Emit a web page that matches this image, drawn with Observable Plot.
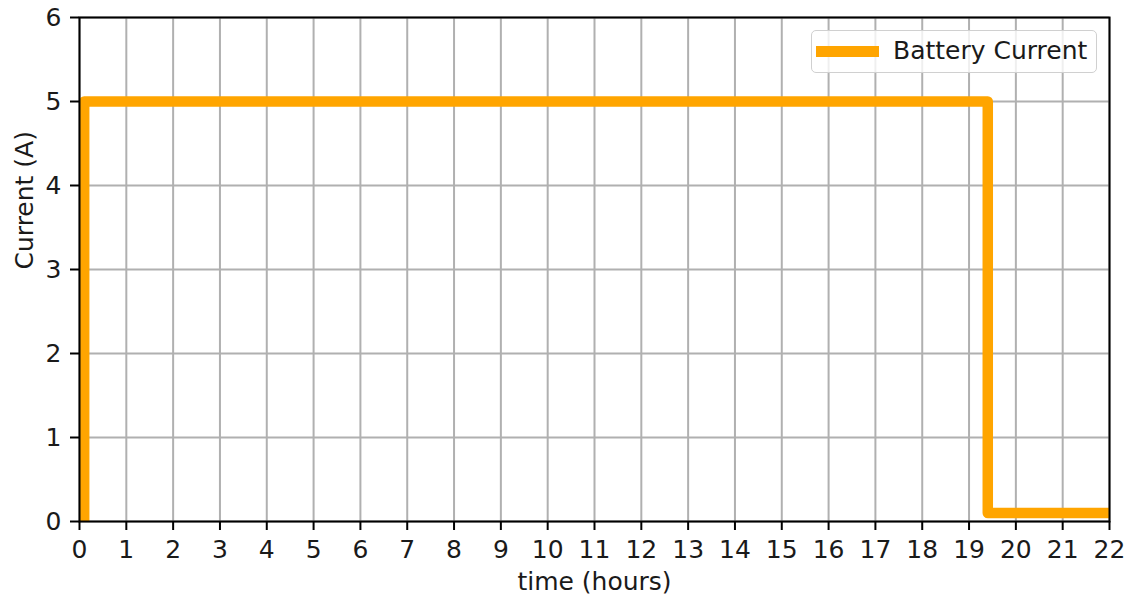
<!DOCTYPE html>
<html>
<head>
<meta charset="utf-8">
<script src="https://cdn.jsdelivr.net/npm/d3@7"></script>
<script src="https://cdn.jsdelivr.net/npm/@observablehq/plot@0.6"></script>
<style>
  html, body { margin: 0; padding: 0; background: #fff; }
  #wrap { position: relative; width: 1129px; height: 598px; font-family: "DejaVu Sans", sans-serif; }
  #legend {
    position: absolute; left: 811px; top: 30px; width: 286px; height: 43px;
    border: 1.5px solid #d0d0d0; border-radius: 5px; background: rgba(255,255,255,0.8);
    box-sizing: border-box;
  }
  #legend .sw { position: absolute; left: 4px; top: 15px; width: 63px; height: 11px; background: #FFA500; }
  #legend .lb { position: absolute; left: 81px; top: 5px; font-size: 25px; line-height: 30px; color: #1a1a1a; white-space: nowrap; }
</style>
</head>
<body>
<div id="wrap">
  <div id="legend"><div class="sw"></div><div class="lb">Battery Current</div></div>
</div>
<script>
// Data: battery current step profile
const seriesName = "Battery Current";
const timeHours = [0.1, 0.1, 19.4, 19.4, 22];
const currentA  = [0, 5, 5, 0.1, 0.1];
const xTicks = d3.range(0, 23);
const yTicks = [0, 1, 2, 3, 4, 5, 6];
const xLabel = "time (hours)";
const yLabel = "Current (A)";

const data = timeHours.map((t, i) => ({t, c: currentA[i]}));
const fs = 25;

const chart = Plot.plot({
  width: 1129,
  height: 598,
  marginLeft: 79,
  marginRight: 20,
  marginTop: 17,
  marginBottom: 77,
  style: {fontFamily: "DejaVu Sans, sans-serif", fontSize: fs + "px", color: "#1a1a1a", background: "#fff"},
  x: {domain: [0, 22], ticks: xTicks},
  y: {domain: [0, 6], ticks: yTicks},
  marks: [
    Plot.gridX(xTicks, {stroke: "#b0b0b0", strokeOpacity: 1, strokeWidth: 2}),
    Plot.gridY(yTicks, {stroke: "#b0b0b0", strokeOpacity: 1, strokeWidth: 2}),
    Plot.line(data, {x: "t", y: "c", stroke: "#FFA500", strokeWidth: 10.5, strokeLinejoin: "round", clip: true}),
    Plot.frame({stroke: "#000", strokeWidth: 2}),
    Plot.axisX(xTicks, {tickSize: 9, tickPadding: 10, fontSize: fs, strokeWidth: 2, stroke: "#000", tickFormat: d => String(d), label: null}),
    Plot.axisY(yTicks, {tickSize: 9, tickPadding: 9, fontSize: fs, strokeWidth: 2, stroke: "#000", tickFormat: d => String(d), label: null}),
    Plot.text([xLabel], {frameAnchor: "bottom", dy: 68, fontSize: fs, lineAnchor: "bottom", fill: "#1a1a1a"}),
    Plot.text([yLabel], {frameAnchor: "left", dx: -47, rotate: -90, fontSize: fs, lineAnchor: "bottom", fill: "#1a1a1a"})
  ]
});
document.getElementById("wrap").insertBefore(chart, document.getElementById("legend"));
chart.style.position = "absolute";
chart.style.left = "0";
chart.style.top = "0";
</script>
</body>
</html>
